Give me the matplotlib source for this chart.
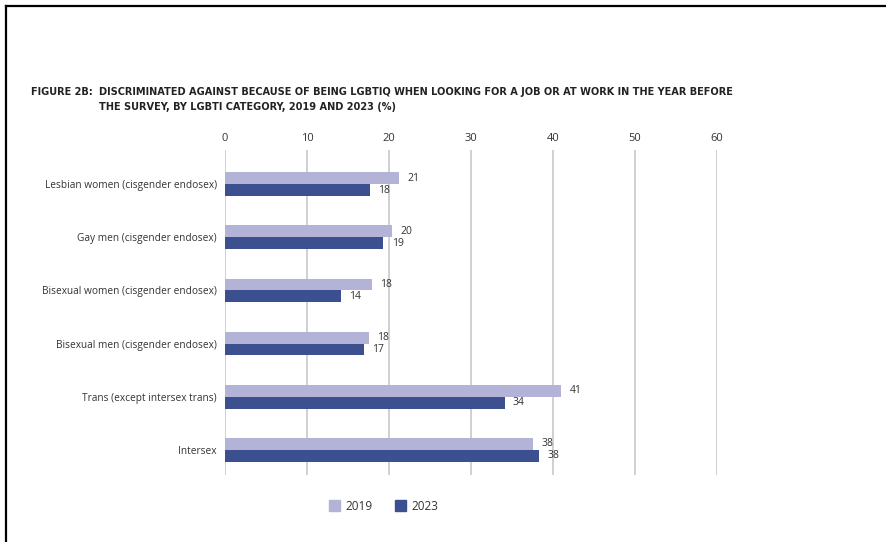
import numpy as np
import matplotlib.pyplot as plt
from matplotlib.lines import Line2D
from matplotlib.patches import Rectangle

# data
categories = ['Lesbian women (cisgender endosex)', 'Gay men (cisgender endosex)',
              'Bisexual women (cisgender endosex)', 'Bisexual men (cisgender endosex)',
              'Trans (except intersex trans)', 'Intersex']
vals_2019 = [21.2, 20.4, 17.9, 17.5, 41.0, 37.6]
vals_2023 = [17.7, 19.3, 14.1, 16.9, 34.1, 38.3]
labels_2019 = ['21', '20', '18', '18', '41', '38']
labels_2023 = ['18', '19', '14', '17', '34', '38']
xticks = [0, 10, 20, 30, 40, 50, 60]

c19 = '#b2b3d6'
c23 = '#3c4f8f'
txt = '#333333'

plt.rcParams['font.family'] = ['Open Sans', 'DejaVu Sans']

fig = plt.figure(figsize=(8.86, 5.42), dpi=100)
W, H = 886, 542
ax = fig.add_axes([225 / W, 1 - 475 / H, (717 - 225) / W, (475 - 150) / H])

y = np.arange(len(categories))
h = 0.226
ax.barh(y - h / 2, vals_2019, height=h, color=c19, zorder=3)
ax.barh(y + h / 2, vals_2023, height=h, color=c23, zorder=3)

for i in range(len(categories)):
    ax.annotate(labels_2019[i], (vals_2019[i], y[i] - h / 2), xytext=(6, 0),
                textcoords='offset points', va='center', ha='left', fontsize=7.5, color=txt)
    ax.annotate(labels_2023[i], (vals_2023[i], y[i] + h / 2), xytext=(6, 0),
                textcoords='offset points', va='center', ha='left', fontsize=7.5, color=txt)

ax.set_xlim(0, 60)
ax.set_ylim(len(categories) - 1 + 0.48, -0.65)
ax.set_xticks(xticks)
ax.xaxis.tick_top()
ax.tick_params(axis='x', length=0, pad=4, labelsize=8, labelcolor=txt)
ax.set_yticks(y)
ax.set_yticklabels(categories)
ax.tick_params(axis='y', length=0, pad=6, labelsize=7.3, labelcolor=txt)
ax.grid(axis='x', color='#cdcdcd', linewidth=1.3, zorder=0)
for s in ax.spines.values():
    s.set_visible(False)

# title
tkw = dict(fontsize=7.8, fontweight='bold', family=['DejaVu Sans'], stretch='condensed',
           va='center', color='#222222')
fig.text(93 / W, 1 - 92 / H, 'FIGURE 2B:', ha='right', **tkw)
fig.text(99 / W, 1 - 92 / H,
         'DISCRIMINATED AGAINST BECAUSE OF BEING LGBTIQ WHEN LOOKING FOR A JOB OR AT WORK IN THE YEAR BEFORE',
         **tkw)
fig.text(99 / W, 1 - 107 / H, 'THE SURVEY, BY LGBTI CATEGORY, 2019 AND 2023 (%)', **tkw)

# legend
for x0, col, lab in [(329, c19, '2019'), (395, c23, '2023')]:
    fig.add_artist(Rectangle((x0 / W, 1 - 511 / H), 11 / W, 11 / H,
                             transform=fig.transFigure, color=col))
    fig.text((x0 + 16) / W, 1 - 506 / H, lab, fontsize=8.5, va='center', color=txt)

# page border (top and left)
fig.add_artist(Line2D([6 / W, 1], [1 - 6 / H, 1 - 6 / H], color='black', linewidth=1.6,
                      transform=fig.transFigure))
fig.add_artist(Line2D([6 / W, 6 / W], [0, 1 - 6 / H], color='black', linewidth=1.6,
                      transform=fig.transFigure))

fig.savefig('out.png', dpi=100)
